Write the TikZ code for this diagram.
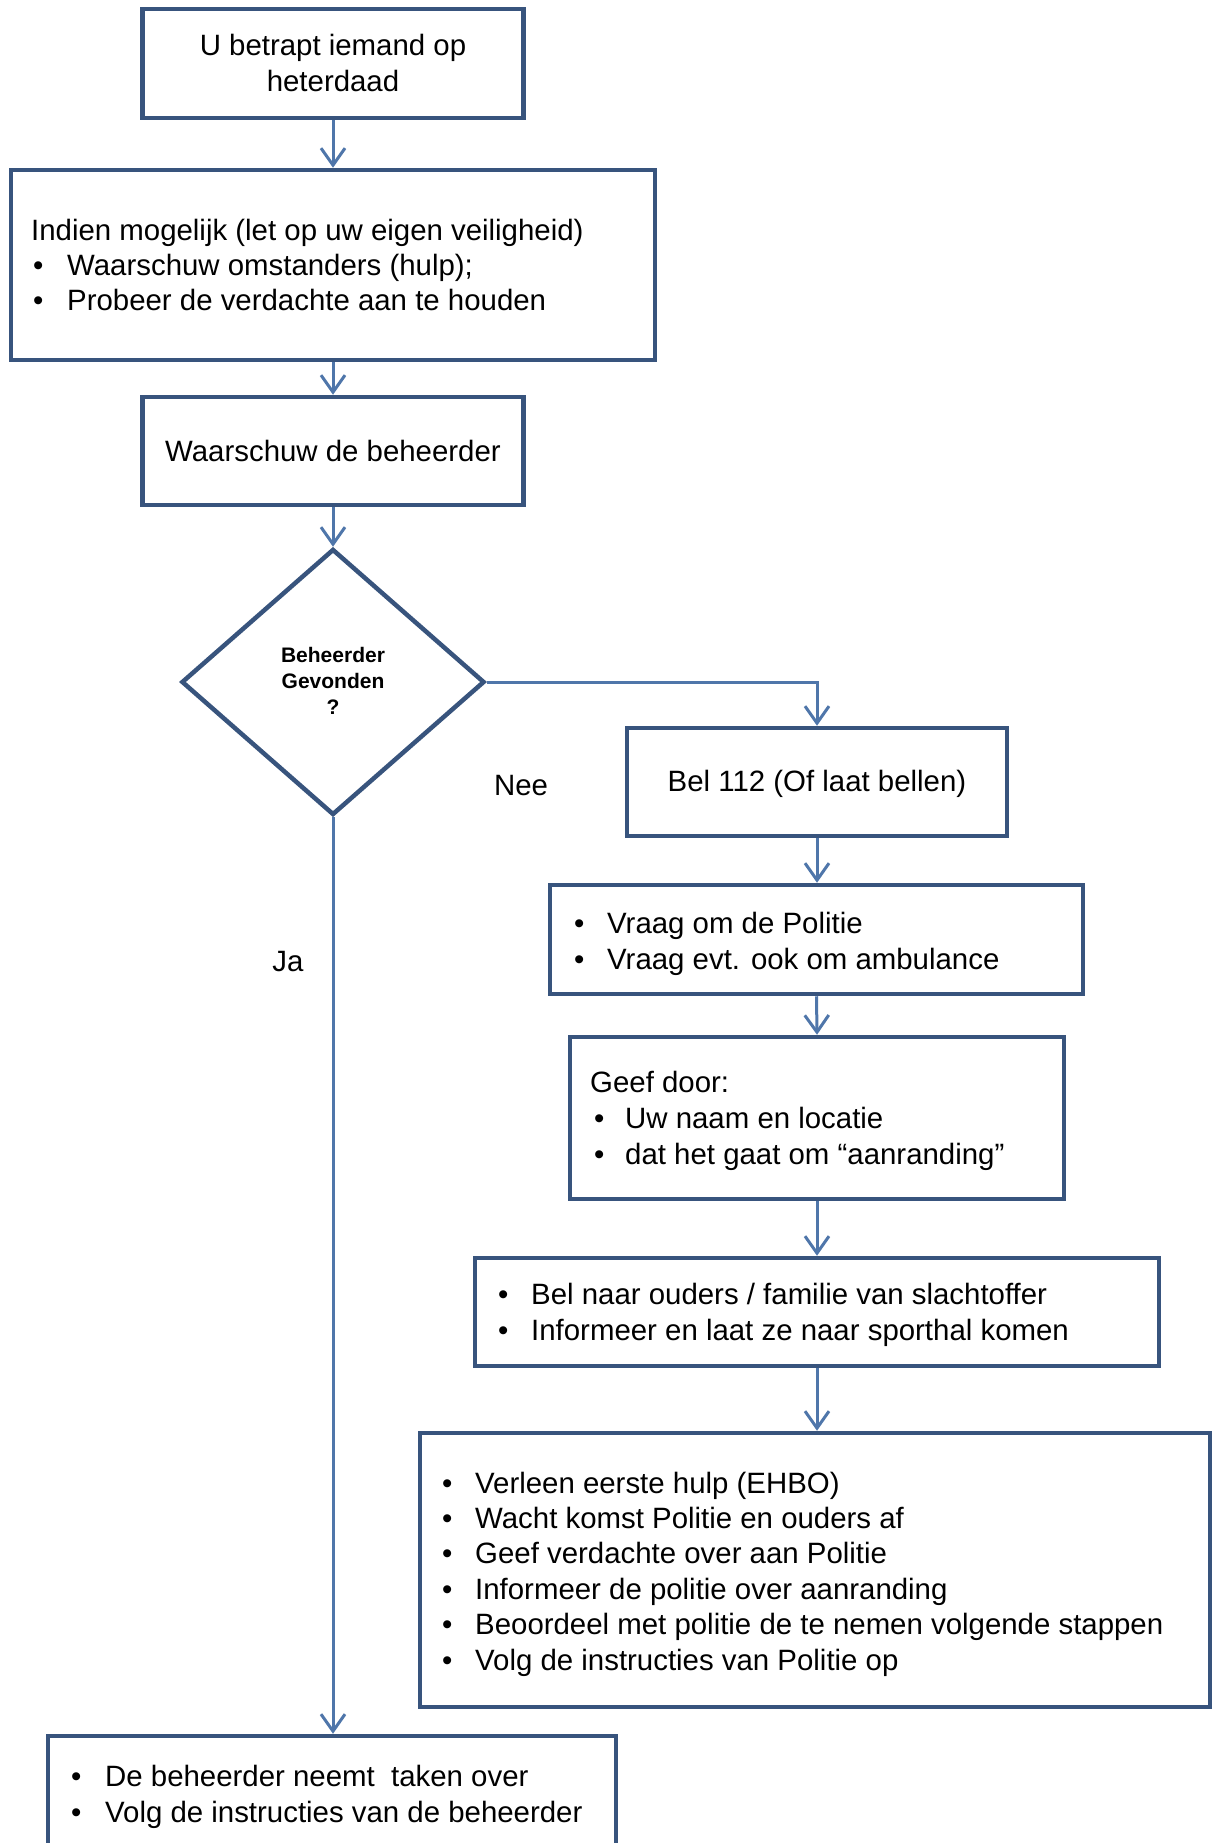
\documentclass[tikz,border=0pt]{standalone}
\usepackage{fontspec}
\setmainfont{Liberation Sans}
\usetikzlibrary{shapes.geometric,arrows.meta}
\definecolor{boxcol}{RGB}{56,84,125}
\definecolor{linecol}{RGB}{79,118,170}
\tikzset{
  stepbox/.style={draw=boxcol,line width=4.5pt,rectangle,inner sep=0pt,fill=white},
  decide/.style={draw=boxcol,line width=4.5pt,diamond,inner sep=0pt,minimum width=303pt,minimum height=266pt},
  conn/.style={draw=linecol,line width=3pt,-{Straight Barb[length=17pt,width=24pt,line width=3pt]}},
  txt/.style={anchor=base west,inner sep=0pt,font=\fontsize{29.4}{35}\selectfont},
  ctxt/.style={anchor=base,inner sep=0pt,font=\fontsize{29.4}{35}\selectfont},
  btxt/.style={anchor=base,inner sep=0pt,font=\fontsize{21}{25}\bfseries\selectfont},
}
\begin{document}
\begin{tikzpicture}[x=1pt,y=-1pt]
\useasboundingbox (0,0) rectangle (1212,1843);
\clip (0,0) rectangle (1212,1843);
% boxes
\node[stepbox,minimum width=381pt,minimum height=109pt] (b1) at (333,63.5) {};
\node[stepbox,minimum width=644pt,minimum height=190pt] (b2) at (333,265) {};
\node[stepbox,minimum width=381pt,minimum height=108pt] (b3) at (333,451) {};
\node[decide] (d) at (333,682) {};
\node[stepbox,minimum width=380pt,minimum height=108pt] (b4) at (817,782) {};
\node[stepbox,minimum width=533pt,minimum height=109pt] (b5) at (816.5,939.5) {};
\node[stepbox,minimum width=494pt,minimum height=162pt] (b6) at (817,1118) {};
\node[stepbox,minimum width=684pt,minimum height=108pt] (b7) at (817,1312) {};
\node[stepbox,minimum width=790pt,minimum height=274pt] (b8) at (815,1570) {};
\node[stepbox,minimum width=568pt,minimum height=164pt] (b9) at (332,1818) {};
% texts
\node[ctxt] (t1a) at (333,56) {U betrapt iemand op};
\node[ctxt] (t1b) at (333,92) {heterdaad};
\node[txt] (t2a) at (31,241) {Indien mogelijk (let op uw eigen veiligheid)};
\node[txt] (t2b) at (33,276) {•}; \node[txt] (t2c) at (67,276) {Waarschuw omstanders (hulp);};
\node[txt] (t2d) at (33,311) {•}; \node[txt] (t2e) at (67,311) {Probeer de verdachte aan te houden};
\node[ctxt] (t3) at (333,461) {Waarschuw de beheerder};
\node[btxt] (tda) at (333,662) {Beheerder};
\node[btxt] (tdb) at (333,688) {Gevonden};
\node[btxt] (tdc) at (333,714) {?};
\node[ctxt] (nee) at (521,795) {Nee};
\node[ctxt] (ja) at (288,971) {Ja};
\node[ctxt] (t4) at (817,791) {Bel 112 (Of laat bellen)};
\node[txt] (t5a) at (574,933) {•}; \node[txt] (t5b) at (607,933) {Vraag om de Politie};
\node[txt] (t5c) at (574,969) {•}; \node[txt] (t5d) at (607,969) {Vraag evt. ook om ambulance};
\node[txt] (t6a) at (590,1092) {Geef door:};
\node[txt] (t6b) at (594,1128) {•}; \node[txt] (t6c) at (625,1128) {Uw naam en locatie};
\node[txt] (t6d) at (594,1164) {•}; \node[txt] (t6e) at (625,1164) {dat het gaat om “aanranding”};
\node[txt] (t7a) at (498,1304) {•}; \node[txt] (t7b) at (531,1304) {Bel naar ouders / familie van slachtoffer};
\node[txt] (t7c) at (498,1340) {•}; \node[txt] (t7d) at (531,1340) {Informeer en laat ze naar sporthal komen};
\node[txt] (t8a) at (442,1493) {•}; \node[txt] (t8b) at (475,1493) {Verleen eerste hulp (EHBO)};
\node[txt] (t8c) at (442,1528) {•}; \node[txt] (t8d) at (475,1528) {Wacht komst Politie en ouders af};
\node[txt] (t8e) at (442,1563) {•}; \node[txt] (t8f) at (475,1563) {Geef verdachte over aan Politie};
\node[txt] (t8g) at (442,1599) {•}; \node[txt] (t8h) at (475,1599) {Informeer de politie over aanranding};
\node[txt] (t8i) at (442,1634) {•}; \node[txt] (t8j) at (475,1634) {Beoordeel met politie de te nemen volgende stappen};
\node[txt] (t8k) at (442,1670) {•}; \node[txt] (t8l) at (475,1670) {Volg de instructies van Politie op};
\node[txt] (t9a) at (71,1786) {•}; \node[txt] (t9b) at (105,1786) {De beheerder neemt\ \ taken over};
\node[txt] (t9c) at (71,1822) {•}; \node[txt] (t9d) at (105,1822) {Volg de instructies van de beheerder};
% connectors
\draw[conn] (b1.south) -- (b2.north);
\draw[conn] (b2.south) -- (b3.north);
\draw[conn] (b3.south) -- (d.north);
\draw[conn] (d.east) -| (b4.north);
\draw[conn] (d.south) -- (d.south |- b9.north);
\draw[conn] (b4.south) -- (b4.south |- b5.north);
\draw[conn] (b5.south) -- (b4.south |- b6.north);
\draw[conn] (b6.south) -- (b6.south |- b7.north);
\draw[conn] (b7.south) -- (b7.south |- b8.north);
\end{tikzpicture}
\end{document}
